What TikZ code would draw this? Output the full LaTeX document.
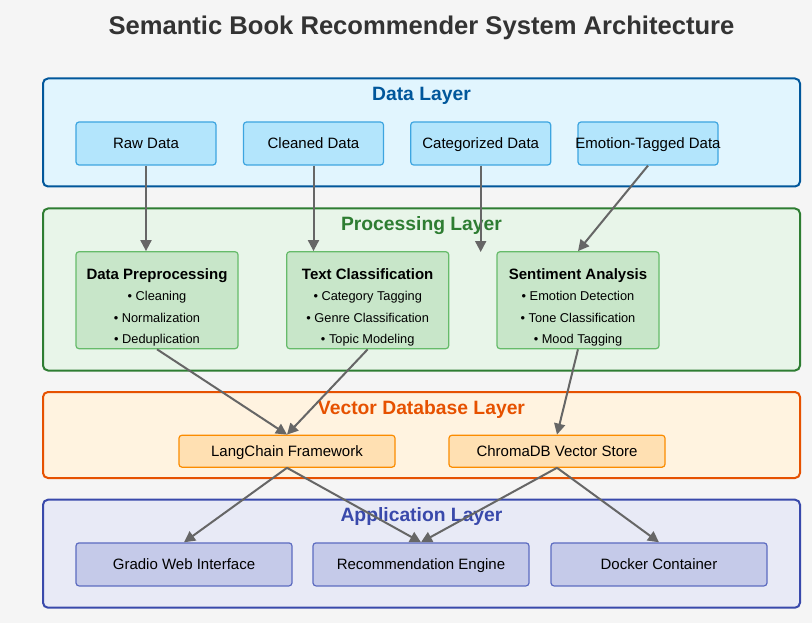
\documentclass[tikz,border=0pt]{standalone}
\usepackage{fontspec}
\setmainfont{Liberation Sans}
\usetikzlibrary{arrows.meta}
\definecolor{bgc}{HTML}{F5F5F5}
\definecolor{titlec}{HTML}{333333}
\definecolor{dlfill}{HTML}{E1F5FE}
\definecolor{dlstroke}{HTML}{01579B}
\definecolor{dnfill}{HTML}{B3E5FC}
\definecolor{dnstroke}{HTML}{3DA5E0}
\definecolor{plfill}{HTML}{E8F5E9}
\definecolor{plstroke}{HTML}{2E7D32}
\definecolor{pnfill}{HTML}{C8E6C9}
\definecolor{pnstroke}{HTML}{66BB6A}
\definecolor{vlfill}{HTML}{FFF3E0}
\definecolor{vlstroke}{HTML}{E65100}
\definecolor{vnfill}{HTML}{FFE0B2}
\definecolor{vnstroke}{HTML}{FB8C00}
\definecolor{alfill}{HTML}{E8EAF6}
\definecolor{alstroke}{HTML}{3949AB}
\definecolor{anfill}{HTML}{C5CAE9}
\definecolor{anstroke}{HTML}{5C6BC0}
\definecolor{arrc}{HTML}{666666}
\tikzset{
  layerbox/.style={draw, line width=2pt, rounded corners=5pt, inner sep=0pt, minimum width=757pt},
  layertitle/.style={anchor=base, font=\fontsize{19.3}{22}\selectfont\bfseries},
  nodebox/.style={draw, line width=1.2pt, rounded corners=3pt, inner sep=0pt, label distance=0pt},
  nlabel/.style={font=\fontsize{15}{18}\selectfont, text=black, inner sep=0pt, text height=10.6pt, text depth=1pt},
  ptitle/.style={anchor=base, font=\fontsize{15}{18}\selectfont\bfseries, inner sep=0pt},
  pbullet/.style={anchor=base, font=\fontsize{12.8}{15}\selectfont, inner sep=0pt},
  dnode/.style={nodebox, fill=dnfill, draw=dnstroke, minimum width=140pt, minimum height=43pt},
  pnode/.style={nodebox, fill=pnfill, draw=pnstroke, minimum width=162pt, minimum height=97pt},
  vnode/.style={nodebox, fill=vnfill, draw=vnstroke, minimum width=216pt, minimum height=32pt},
  anode/.style={nodebox, fill=anfill, draw=anstroke, minimum width=216pt, minimum height=43pt},
  conn/.style={draw=arrc, line width=2pt, -{Triangle[length=11pt,width=11pt]}}
}
\begin{document}
\begin{tikzpicture}[x=1pt,y=-1pt]
\fill[bgc] (0,0) rectangle (812,623);
\useasboundingbox (0,0) rectangle (812,623);

\node[anchor=base, font=\fontsize{25.6}{30}\selectfont\bfseries, text=titlec] (title) at (421.5,35) {Semantic Book Recommender System Architecture};

% Data layer
\node[layerbox, fill=dlfill, draw=dlstroke, minimum height=108pt] (dl) at (421.5,132.5) {};
\node[layertitle, text=dlstroke] (dlt) at (421.5,101) {Data Layer};
\node[dnode, label={[nlabel]center:Raw Data}] (raw) at (146,143.5) {};
\node[dnode, label={[nlabel]center:Cleaned Data}] (clean) at (313.5,143.5) {};
\node[dnode, label={[nlabel]center:Categorized Data}] (cat) at (480.7,143.5) {};
\node[dnode, label={[nlabel]center:Emotion-Tagged Data}] (emo) at (648,143.5) {};

% Processing layer
\node[layerbox, fill=plfill, draw=plstroke, minimum height=162pt] (pl) at (421.5,289.5) {};
\node[layertitle, text=plstroke] (plt) at (421.5,230) {Processing Layer};
\node[pnode] (pre) at (157,300.2) {};
\node[pnode] (txt) at (367.7,300.2) {};
\node[pnode] (sent) at (578,300.2) {};
\node[ptitle] (pret) at (157,279.3) {Data Preprocessing};
\node[pbullet] (pre1) at (157,300.7) {• Cleaning};
\node[pbullet] (pre2) at (157,322.3) {• Normalization};
\node[pbullet] (pre3) at (157,343.3) {• Deduplication};
\node[ptitle] (txtt) at (367.7,279.3) {Text Classification};
\node[pbullet] (txt1) at (367.7,300.7) {• Category Tagging};
\node[pbullet] (txt2) at (367.7,322.3) {• Genre Classification};
\node[pbullet] (txt3) at (367.7,343.3) {• Topic Modeling};
\node[ptitle] (sentt) at (578,279.3) {Sentiment Analysis};
\node[pbullet] (sent1) at (578,300.7) {• Emotion Detection};
\node[pbullet] (sent2) at (578,322.3) {• Tone Classification};
\node[pbullet] (sent3) at (578,343.3) {• Mood Tagging};

% Vector DB layer
\node[layerbox, fill=vlfill, draw=vlstroke, minimum height=86pt] (vl) at (421.5,435) {};
\node[layertitle, text=vlstroke] (vlt) at (421.5,414.3) {Vector Database Layer};
\node[vnode, label={[nlabel]center:LangChain Framework}] (lang) at (287,451.2) {};
\node[vnode, label={[nlabel]center:ChromaDB Vector Store}] (chroma) at (557,451.2) {};

% Application layer
\node[layerbox, fill=alfill, draw=alstroke, minimum height=108pt] (al) at (421.5,553.7) {};
\node[layertitle, text=alstroke] (alt) at (421.5,521) {Application Layer};
\node[anode, label={[nlabel]center:Gradio Web Interface}] (gradio) at (184,564.4) {};
\node[anode, label={[nlabel]center:Recommendation Engine}] (rec) at (421,564.4) {};
\node[anode, label={[nlabel]center:Docker Container}] (docker) at (659,564.4) {};

% connectors
\coordinate (catend) at (480.7,252);
\draw[conn] (raw.south) -- (raw.south |- pre.north);
\draw[conn] (clean.south) -- (clean.south |- txt.north);
\draw[conn] (cat.south) -- (catend);
\draw[conn] (emo.south) -- (sent.north);
\draw[conn] (pre.south) -- (lang.north);
\draw[conn] (txt.south) -- (lang.north);
\draw[conn] (sent.south) -- (chroma.north);
\draw[conn] (lang.south) -- (gradio.north);
\draw[conn] (lang.south) -- (rec.north);
\draw[conn] (chroma.south) -- (rec.north);
\draw[conn] (chroma.south) -- (docker.north);
\end{tikzpicture}
\end{document}
